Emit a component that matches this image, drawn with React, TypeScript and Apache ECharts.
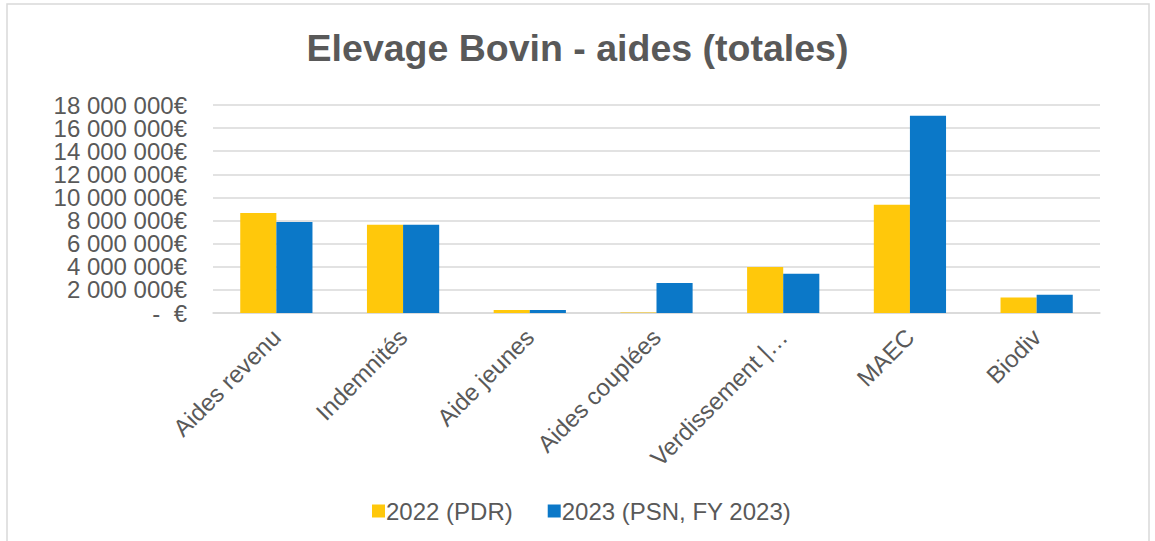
import React, { useEffect, useRef } from "react";
import * as echarts from "echarts";

const categories = [
  "Aides revenu",
  "Indemnités",
  "Aide jeunes",
  "Aides couplées",
  "Verdissement |…",
  "MAEC",
  "Biodiv",
];
const series2022 = [8650000, 7640000, 270000, 50000, 3980000, 9370000, 1350000];
const series2023 = [7870000, 7640000, 270000, 2600000, 3400000, 17070000, 1580000];
const seriesNames = ["2022 (PDR)", "2023 (PSN, FY 2023)"];
const title = "Elevage Bovin - aides (totales)";
const yMax = 18000000;
const yStep = 2000000;

function fmt(v: number): string {
  if (v === 0) return "-  €";
  const s = Math.round(v).toString();
  return s.replace(/\B(?=(\d{3})+(?!\d))/g, " ") + "€";
}

export default function App() {
  const ref = useRef<HTMLDivElement>(null);
  useEffect(() => {
    if (!ref.current) return;
    const chart = echarts.init(ref.current, undefined, { renderer: "svg" });
    const font = "Liberation Sans, Arial, sans-serif";
    const labelBase = {
      fontSize: 24,
      lineHeight: 18,
      color: "#595959",
      margin: 26,
      fontFamily: font,
      hideOverlap: false,
    };
    const isEven = (v: number) => Math.round(v / yStep) % 2 === 0;
    chart.setOption({
      animation: false,
      backgroundColor: "#ffffff",
      textStyle: { fontFamily: font },
      title: {
        text: title,
        left: "center",
        top: 24,
        textStyle: { fontSize: 37.5, fontWeight: "bold", color: "#595959", fontFamily: font },
      },
      graphic: [
        {
          type: "rect",
          shape: { x: 7, y: 4, width: 1142, height: 560 },
          style: { fill: "none", stroke: "#d9d9d9", lineWidth: 1.5 },
          silent: true,
        },
      ],
      legend: {
        data: seriesNames,
        top: 494,
        left: 367,
        itemWidth: 13,
        itemHeight: 13,
        itemGap: 35,
        icon: "rect",
        textStyle: { fontSize: 24, color: "#595959", fontFamily: font, padding: [0, 0, 0, -4] },
      },
      grid: { left: 213, right: 55, top: 105, bottom: 228, containLabel: false },
      xAxis: {
        type: "category",
        data: categories,
        axisLine: { lineStyle: { color: "#d9d9d9", width: 1.5 } },
        axisTick: { show: false },
        axisLabel: {
          rotate: 45,
          interval: 0,
          fontSize: 24,
          color: "#595959",
          margin: 20,
          fontFamily: font,
        },
      },
      yAxis: [
        {
          type: "value",
          position: "left",
          min: 0,
          max: yMax,
          interval: yStep,
          axisLine: { show: false },
          axisTick: { show: false },
          splitLine: { lineStyle: { color: "#d9d9d9", width: 1.5 } },
          axisLabel: {
            ...labelBase,
            showMinLabel: true,
            showMaxLabel: false,
            formatter: (v: number) => (isEven(v) ? fmt(v) : ""),
          },
        },
        {
          type: "value",
          position: "left",
          offset: 0,
          min: 0,
          max: yMax,
          interval: yStep,
          axisLine: { show: false },
          axisTick: { show: false },
          splitLine: { show: false },
          axisLabel: {
            ...labelBase,
            showMinLabel: false,
            showMaxLabel: true,
            formatter: (v: number) => (isEven(v) ? "" : fmt(v)),
          },
        },
      ],
      series: [
        {
          name: seriesNames[0],
          type: "bar",
          yAxisIndex: 0,
          data: series2022,
          barGap: "0%",
          barCategoryGap: "43%",
          itemStyle: { color: "#FFC80B" },
        },
        {
          name: seriesNames[1],
          type: "bar",
          yAxisIndex: 0,
          data: series2023,
          barGap: "0%",
          barCategoryGap: "43%",
          itemStyle: { color: "#0B78C8" },
        },
      ],
      color: ["#FFC000", "#0070C0"],
    });
    return () => chart.dispose();
  }, []);
  return (
    <div
      ref={ref}
      style={{ position: "absolute", left: 0, top: 0, width: 1155, height: 541 }}
    />
  );
}
